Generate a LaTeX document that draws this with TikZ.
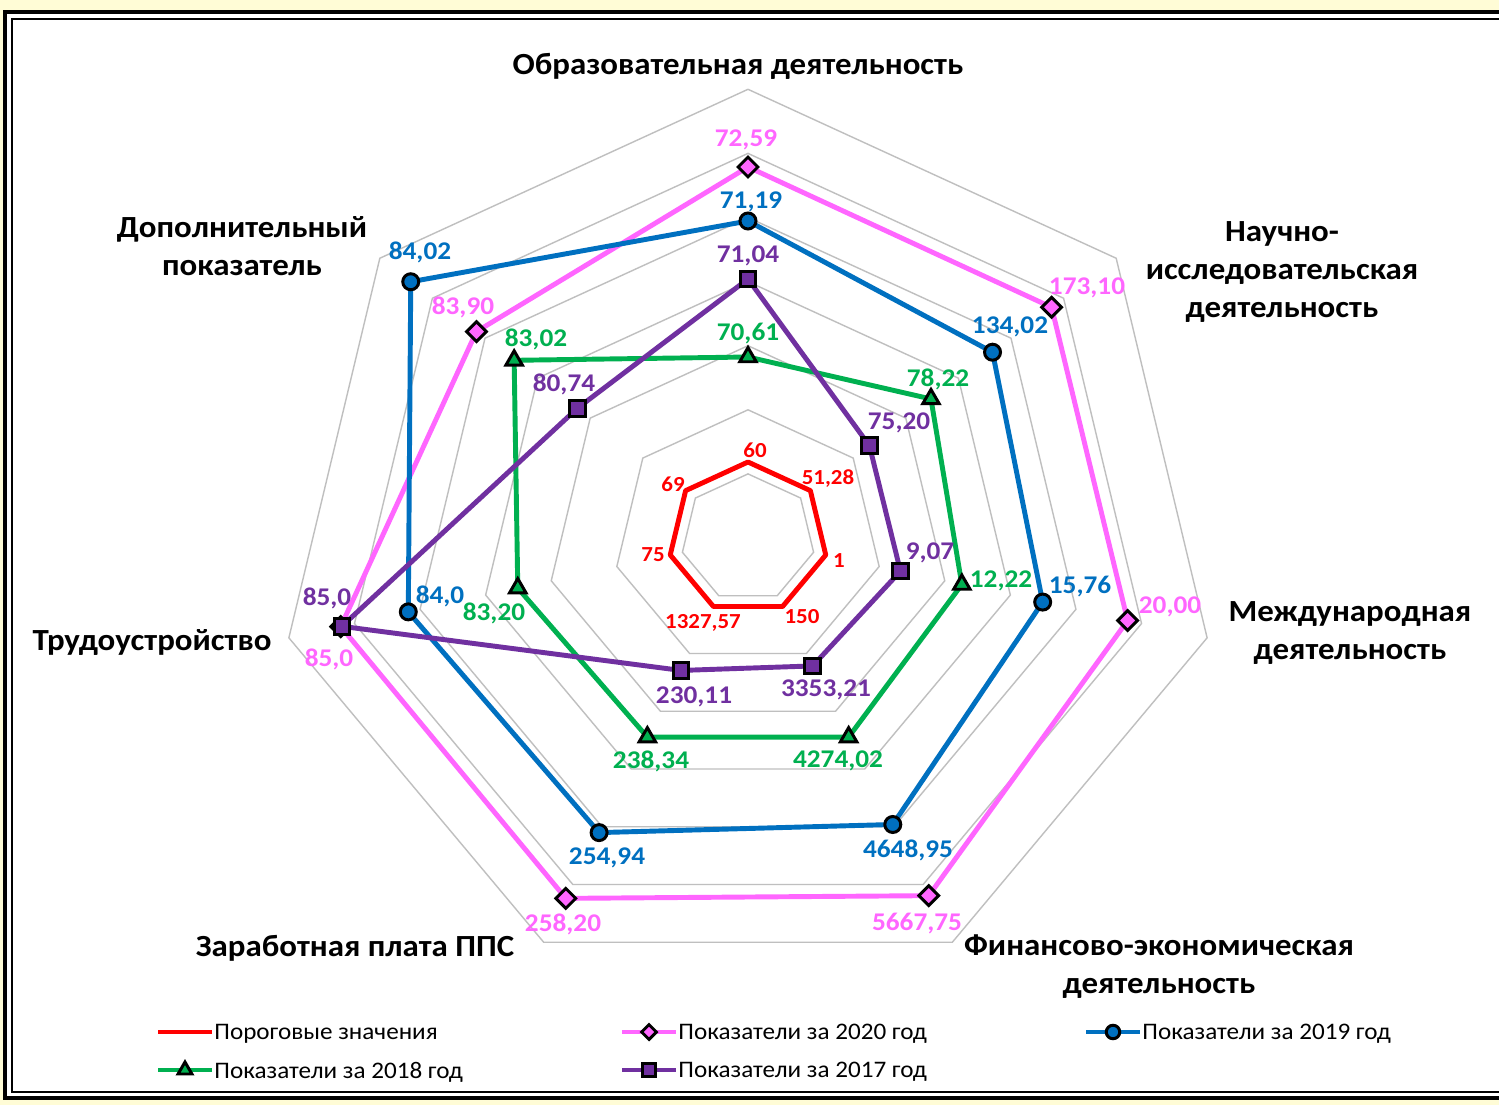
\documentclass[tikz,border=0pt]{standalone}
\usepackage{fontspec}
\setmainfont{Carlito}
\usetikzlibrary{shapes.geometric}

\definecolor{thrred}{RGB}{255,0,0}
\definecolor{y20}{RGB}{255,102,255}
\definecolor{y19}{RGB}{0,112,192}
\definecolor{y18}{RGB}{0,176,80}
\definecolor{y17}{RGB}{112,48,160}
\definecolor{gridgray}{RGB}{191,191,191}
\definecolor{slidebg}{RGB}{255,252,214}

\tikzset{
  gridline/.style={gridgray, line width=0.8pt, line join=miter},
  series/.style={line width=2.8pt, line join=round},
  mkdia/.style={diamond, draw=black, line width=1.7pt, inner sep=0pt, minimum size=0.42cm},
  mkdot/.style={circle, draw=black, line width=1.7pt, inner sep=0pt, minimum size=0.32cm},
  mktri/.style={regular polygon, regular polygon sides=3, draw=black, line width=1.7pt, inner sep=0pt, minimum size=0.38cm},
  mksq/.style={rectangle, draw=black, line width=1.7pt, inner sep=0pt, minimum size=0.31cm},
  wide/.style={xscale=#1, transform shape},
  axislabel/.style={font=\fontsize{17.5}{21.6}\selectfont\bfseries, align=center, inner sep=0pt, wide=1.07},
  vallabel/.style={font=\fontsize{14.5}{16}\selectfont\bfseries, inner sep=0pt, wide=1.07},
  thrlabel/.style={font=\fontsize{12.2}{14}\selectfont\bfseries, text=thrred, inner sep=0pt, wide=1.07},
  legtext/.style={font=\fontsize{13.5}{15}\selectfont, anchor=west, inner sep=0pt, wide=1.06}
}

\begin{document}
\begin{tikzpicture}[x=0.02cm, y=-0.02cm]
\useasboundingbox (0,0) rectangle (1499,1105);
\fill[slidebg] (0,0) rectangle (1499,1105);
\draw[line width=2.4pt, fill=white] (5,12) rectangle (1530,1098);
\draw[line width=0.7pt] (12,19) rectangle (1530,1092);

% radar part, origin in the centre
\begin{scope}[shift={(748,538)}, x=0.021cm, y=0.02cm]
  % grid
  \foreach \g in {1,...,7}
    \draw[gridline] (90:64.1*\g) \foreach \k in {1,...,6} { -- (90-360/7*\k:64.1*\g) } -- cycle;

  % threshold
  \foreach \k in {0,...,6}
    \coordinate (thr-\k) at (90-360/7*\k:76);
  \draw[series, thrred] (thr-0) -- (thr-1) -- (thr-2) -- (thr-3) -- (thr-4) -- (thr-5) -- (thr-6) -- cycle;

  % 2020
  \foreach \r [count=\k from 0] in {371,370,371,397,400,398,331}
    \coordinate (v20-\k) at (90-360/7*\k:\r);
  \draw[series, y20] (v20-0) -- (v20-1) -- (v20-2) -- (v20-3) -- (v20-4) -- (v20-5) -- (v20-6) -- cycle;
  \foreach \k in {0,...,6}
    \node[mkdia, fill=y20] (m20-\k) at (v20-\k) {};

  % 2019
  \foreach \r [count=\k from 0] in {317,298,288,318,327,332,411}
    \coordinate (v19-\k) at (90-360/7*\k:\r);
  \draw[series, y19] (v19-0) -- (v19-1) -- (v19-2) -- (v19-3) -- (v19-4) -- (v19-5) -- (v19-6) -- cycle;
  \foreach \k in {0,...,6}
    \node[mkdot, fill=y19] (m19-\k) at (v19-\k) {};

  % 2018
  \foreach \r [count=\k from 0] in {181,223,209,221,221,225,285}
    \coordinate (v18-\k) at (90-360/7*\k:\r);
  \draw[series, y18] (v18-0) -- (v18-1) -- (v18-2) -- (v18-3) -- (v18-4) -- (v18-5) -- (v18-6) -- cycle;
  \foreach \k in {0,...,6}
    \node[mktri, fill=y18] (m18-\k) at (v18-\k) {};

  % 2017
  \foreach \r [count=\k from 0] in {259,148,149,142,147,397,208}
    \coordinate (v17-\k) at (90-360/7*\k:\r);
  \draw[series, y17] (v17-0) -- (v17-1) -- (v17-2) -- (v17-3) -- (v17-4) -- (v17-5) -- (v17-6) -- cycle;
  \foreach \k in {0,...,6}
    \node[mksq, fill=y17] (m17-\k) at (v17-\k) {};
\end{scope}

% values
\foreach \px/\py/\t [count=\i] in {755/450/60, 828/479/{51,28}, 839/561/1, 802/617/150, 703/623/{1327,57}, 653/555/75, 673/484/69}
  \node[thrlabel] (lthr-\i) at (\px,\py) {\t};
\foreach \px/\py/\t [count=\i] in {746/140/{72,59}, 1087/288/{173,10}, 1170/607/{20,00}, 917/924/{5667,75}, 563/924/{258,20}, 329/659/{85,0}, 463/307/{83,90}}
  \node[vallabel, text=y20] (l20-\i) at (\px,\py) {\t};
\foreach \px/\py/\t [count=\i] in {751/202/{71,19}, 1010/327/{134,02}, 1080/587/{15,76}, 908/850/{4648,95}, 607/858/{254,94}, 440/596/{84,0}, 420/252/{84,02}}
  \node[vallabel, text=y19] (l19-\i) at (\px,\py) {\t};
\foreach \px/\py/\t [count=\i] in {748/334/{70,61}, 938/379/{78,22}, 1001/581/{12,22}, 838/761/{4274,02}, 651/761/{238,34}, 494/613/{83,20}, 536/339/{83,02}}
  \node[vallabel, text=y18] (l18-\i) at (\px,\py) {\t};
\foreach \px/\py/\t [count=\i] in {748/256/{71,04}, 899/423/{75,20}, 930/553/{9,07}, 826/690/{3353,21}, 694/697/{230,11}, 327/598/{85,0}, 564/384/{80,74}}
  \node[vallabel, text=y17] (l17-\i) at (\px,\py) {\t};

% axis names
\node[axislabel] (ax-edu) at (738,66) {Образовательная деятельность};
\node[axislabel] (ax-sci) at (1282,272) {Научно-\\исследовательская\\деятельность};
\node[axislabel] (ax-int) at (1350,633) {Международная\\деятельность};
\node[axislabel] (ax-fin) at (1159,967) {Финансово-экономическая\\деятельность};
\node[axislabel] (ax-pay) at (355,948) {Заработная плата ППС};
\node[axislabel] (ax-job) at (152,642) {Трудоустройство};
\node[axislabel] (ax-add) at (242,246) {Дополнительный\\показатель};

% legend
\draw[series, thrred] (158,1032) -- (212,1032);
\node[legtext] (leg-thr) at (214,1034) {Пороговые значения};
\draw[series, y20] (622,1032) -- (676,1032);
\node[mkdia, fill=y20, minimum size=0.32cm] (legm-20) at (649,1032) {};
\node[legtext] (leg-20) at (678,1034) {Показатели за 2020 год};
\draw[series, y19] (1086,1032) -- (1140,1032);
\node[mkdot, fill=y19, minimum size=0.27cm] (legm-19) at (1113,1032) {};
\node[legtext] (leg-19) at (1142,1034) {Показатели за 2019 год};
\draw[series, y18] (158,1070) -- (212,1070);
\node[mktri, fill=y18, minimum size=0.32cm] (legm-18) at (185,1070) {};
\node[legtext] (leg-18) at (214,1072) {Показатели за 2018 год};
\draw[series, y17] (622,1070) -- (676,1070);
\node[mksq, fill=y17, minimum size=0.27cm] (legm-17) at (649,1070) {};
\node[legtext] (leg-17) at (678,1072) {Показатели за 2017 год};
\end{tikzpicture}
\end{document}
